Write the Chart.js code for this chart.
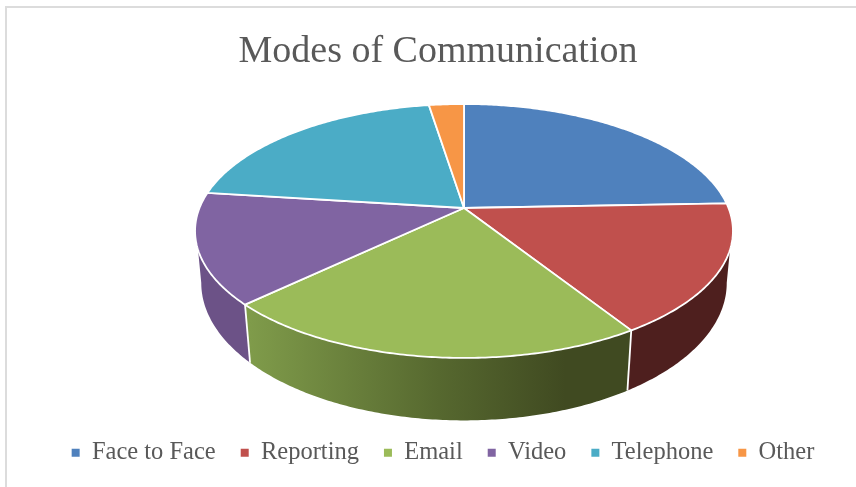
<!DOCTYPE html>
<html>
<head>
<meta charset="utf-8">
<title>Modes of Communication</title>
<script src="https://cdn.jsdelivr.net/npm/chart.js@4"></script>
<style>
    html, body { margin: 0; padding: 0; background: #fff; overflow: hidden; }
    #wrap { position: relative; width: 856px; height: 487px; }
    #frame { position: absolute; left: 5px; top: 6px; width: 851px; height: 481px; box-sizing: border-box;
             border-left: 2px solid #dcdcdc; border-top: 2px solid #dcdcdc; }
    canvas { position: absolute; left: 0; top: 0; }
</style>
</head>
<body>
<div id="wrap">
    <div id="frame"></div>
    <canvas id="modesChart" width="856" height="487"></canvas>
</div>
<script>
const titleText = 'Modes of Communication';
const categories = ['Face to Face', 'Reporting', 'Email', 'Video', 'Telephone', 'Other'];
const shares = [24.4, 16.6, 21.9, 14.1, 20.5, 2.5];
const faceColors = ['#4F81BD', '#C0504D', '#9BBB59', '#8064A2', '#4BACC6', '#F79646'];

// Tilted disc: apex of the slices and the near/far foreshortening
const TOP_FACE = { x: 464, y: 208, rx: 264.5, ry: 122.8 };
const BOTTOM_FACE = { x: 464, y: 258, rx: 258.4, ry: 133 };
const TILT = 0.181;
const SEAM_WIDTH = 1.8;

// Angle ranges of each rim that stay on the outline of the side wall
const TOP_RIM = [18.7 * Math.PI / 180, 161.3 * Math.PI / 180];
const BOTTOM_RIM = [10.4 * Math.PI / 180, 169.6 * Math.PI / 180];

function project(face, angle) {
    const w = 1 - TILT * Math.sin(angle);
    return [face.x + face.rx * Math.cos(angle) / w, face.y + face.ry * Math.sin(angle) / w];
}

function rimPoints(face, from, to) {
    const steps = Math.max(2, Math.ceil(Math.abs(to - from) * 90));
    const pts = [];
    for (let i = 0; i <= steps; i++) {
        pts.push(project(face, from + (to - from) * i / steps));
    }
    return pts;
}

function tracePath(ctx, pts) {
    ctx.beginPath();
    pts.forEach(([x, y], i) => (i ? ctx.lineTo(x, y) : ctx.moveTo(x, y)));
}

// Side wall colour per slice, shaded left to right like a lit cylinder
function wallFill(ctx, index) {
    if (index === 1) return '#4E1F1E';
    if (index === 3) return '#6C5287';
    const g = ctx.createLinearGradient(250, 0, 565, 0);
    g.addColorStop(0, '#7F9B4A');
    g.addColorStop(0.6, '#56682F');
    g.addColorStop(1, '#404A21');
    return g;
}

const disc3d = {
    id: 'disc3d',
    // legend row sits a little right of the title's centre line
    afterLayout(chart) {
        chart.legend.left += 5;
        chart.legend.right += 5;
    },
    beforeDatasetDraw(chart, args) {
        const ctx = chart.ctx;
        const arcs = chart.getDatasetMeta(args.index).data;
        ctx.save();

        // side walls of the slices facing the viewer
        arcs.forEach((arc, i) => {
            const from = arc.startAngle;
            const to = arc.endAngle;
            const topA = Math.max(from, TOP_RIM[0]);
            const topB = Math.min(to, TOP_RIM[1]);
            const botA = Math.max(from, BOTTOM_RIM[0]);
            const botB = Math.min(to, BOTTOM_RIM[1]);
            if (botA >= botB) return;
            const outline = rimPoints(TOP_FACE, topA, Math.max(topA, topB))
                .concat(rimPoints(BOTTOM_FACE, botB, botA));
            tracePath(ctx, outline);
            ctx.fillStyle = wallFill(ctx, i);
            ctx.fill();
        });

        // white seams where two walls meet
        arcs.forEach(arc => {
            const a = arc.startAngle;
            if (a <= TOP_RIM[0] || a >= TOP_RIM[1]) return;
            tracePath(ctx, [project(TOP_FACE, a), project(BOTTOM_FACE, a)]);
            ctx.strokeStyle = '#fff';
            ctx.lineWidth = SEAM_WIDTH;
            ctx.stroke();
        });

        // top face
        arcs.forEach((arc, i) => {
            const pts = [[TOP_FACE.x, TOP_FACE.y]].concat(rimPoints(TOP_FACE, arc.startAngle, arc.endAngle));
            tracePath(ctx, pts);
            ctx.closePath();
            ctx.fillStyle = faceColors[i];
            ctx.fill();
            ctx.strokeStyle = '#fff';
            ctx.lineWidth = SEAM_WIDTH;
            ctx.lineJoin = 'round';
            ctx.stroke();
        });

        ctx.restore();
        return false;
    }
};

new Chart(document.getElementById('modesChart'), {
    type: 'pie',
    data: {
        labels: categories,
        datasets: [{
            data: shares,
            backgroundColor: faceColors,
            borderWidth: 0
        }]
    },
    plugins: [disc3d],
    options: {
        responsive: false,
        animation: false,
        layout: { padding: { left: 20, top: 29, bottom: 12 } },
        plugins: {
            title: {
                display: true,
                text: titleText,
                color: '#595959',
                font: { family: '"Liberation Serif", serif', size: 38, weight: 'normal' },
                padding: { top: 0, bottom: 10 }
            },
            legend: {
                position: 'bottom',
                labels: {
                    boxWidth: 8,
                    boxHeight: 8,
                    padding: 25,
                    color: '#595959',
                    font: { family: '"Liberation Serif", serif', size: 24.5 }
                }
            },
            tooltip: { enabled: false }
        }
    }
});
</script>
</body>
</html>
